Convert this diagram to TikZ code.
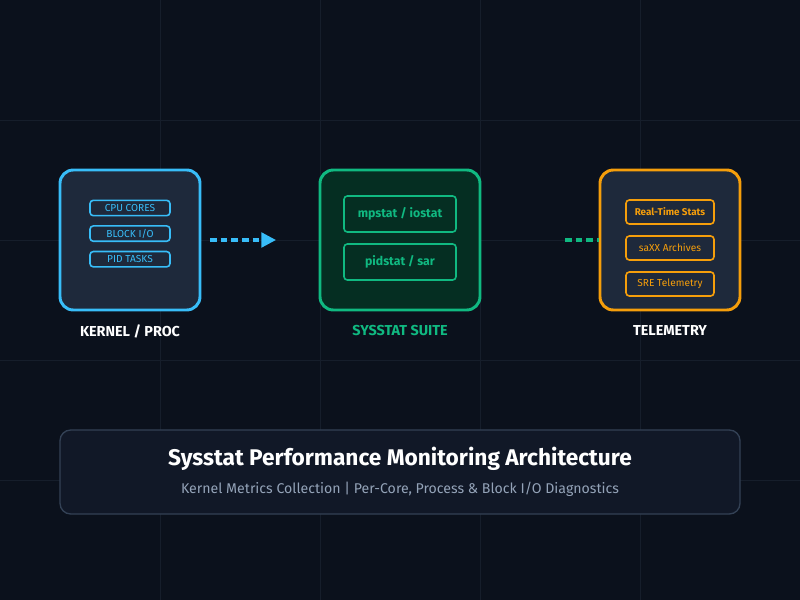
\documentclass[tikz,border=0pt]{standalone}
\usepackage{fontspec}
\setmainfont{Fira Sans}
\usetikzlibrary{positioning, arrows.meta}
\definecolor{bgc}{HTML}{0B111C}
\definecolor{gridc}{HTML}{161E2B}
\definecolor{cardc}{HTML}{1E293B}
\definecolor{bluec}{HTML}{38BDF8}
\definecolor{greenc}{HTML}{10B981}
\definecolor{greenf}{HTML}{052E22}
\definecolor{orangec}{HTML}{F59E0B}
\definecolor{panelc}{HTML}{111827}
\definecolor{panelb}{HTML}{334155}
\definecolor{subc}{HTML}{94A3B8}
\tikzset{
  card/.style={rounded corners=10pt, line width=2.2pt, minimum width=105pt, minimum height=105pt},
  chip/.style={rounded corners=2.5pt, line width=1.2pt, minimum width=60pt, minimum height=11.5pt, inner sep=0pt, font=\fontsize{7.6}{8}\selectfont},
  tag/.style={font=\bfseries\fontsize{10.8}{12}\selectfont}
}
\begin{document}
\begin{tikzpicture}[x=0.75pt, y=-0.75pt, thick]
\fill[bgc] (0,0) rectangle (800,600);
\useasboundingbox (0,0) rectangle (800,600);
\foreach \gx in {160,320,480,640} \draw[gridc, line width=0.6pt] (\gx,0) -- (\gx,600);
\foreach \gy in {120,240,360,480} \draw[gridc, line width=0.6pt] (0,\gy) -- (800,\gy);
% kernel
\node [card, draw=bluec, fill=cardc] (kern) at (130,240){};
\node [chip, draw=bluec, text=bluec] (cpu) at (130,208){CPU CORES};
\node [chip, draw=bluec, text=bluec, below=6.5pt of cpu] (blk){BLOCK I/O};
\node [chip, draw=bluec, text=bluec, below=6.5pt of blk] (pid){PID TASKS};
\node [tag, text=white] (kl) at (130,331){KERNEL / PROC};
% sysstat
\node [card, draw=greenc, fill=greenf, minimum width=120pt] (sys) at (400,240){};
\node [chip, draw=greenc, text=greenc, minimum width=84pt, minimum height=27pt, font=\bfseries\fontsize{9.2}{10}\selectfont] (mp) at (400,214){mpstat / iostat};
\node [chip, draw=greenc, text=greenc, minimum width=84pt, minimum height=27pt, font=\bfseries\fontsize{9.2}{10}\selectfont] (ps) at (400,262){pidstat / sar};
\node [tag, text=greenc] (sl) at (400,331){SYSSTAT SUITE};
% telemetry
\node [card, draw=orangec, fill=cardc] (tel) at (670,240){};
\node [chip, draw=orangec, text=orangec, minimum width=66pt, minimum height=18pt, font=\bfseries\fontsize{7.4}{8}\selectfont] (rt) at (670,212){Real-Time Stats};
\node [chip, draw=orangec, text=orangec, minimum width=66pt, minimum height=18pt] (sa) at (670,248){saXX Archives};
\node [chip, draw=orangec, text=orangec, minimum width=66pt, minimum height=18pt] (sre) at (670,284){SRE Telemetry};
\node [tag, text=white] (tl) at (670,331){TELEMETRY};
% connectors
\coordinate (a1) at (210,240); \coordinate (g1) at (565,240);
\draw [bluec, line width=2.4pt, dash pattern=on 5pt off 3pt, -{Triangle[length=11pt,width=11pt]}] (a1) -- (276,240);
\draw [greenc, line width=2.4pt, dash pattern=on 5pt off 3pt] (g1) -- (tel.west);
% footer
\node [rounded corners=8pt, draw=panelb, fill=panelc, line width=1pt, minimum width=510pt, minimum height=63pt] (pan) at (400,472){};
\node [text=white, font=\bfseries\fontsize{17}{18}\selectfont] (title) at (400,459){Sysstat Performance Monitoring Architecture};
\node [text=subc, font=\fontsize{10.6}{12}\selectfont] (sub) at (400,489){Kernel Metrics Collection | Per-Core, Process \& Block I/O Diagnostics};
\end{tikzpicture}
\end{document}
